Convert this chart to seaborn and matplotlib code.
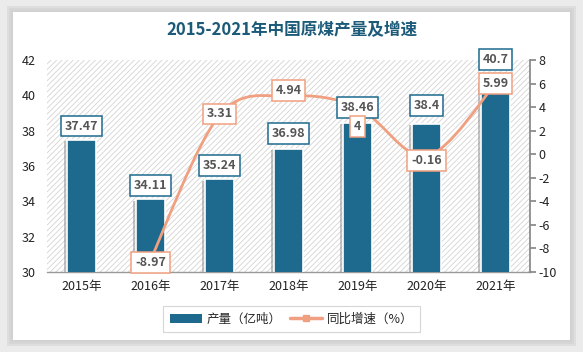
import numpy as np
import pandas as pd
import matplotlib
matplotlib.use("Agg")
import matplotlib.pyplot as plt
import seaborn as sns
from matplotlib.patches import Rectangle
from matplotlib.path import Path
from matplotlib.patches import PathPatch
from matplotlib.lines import Line2D
from matplotlib.patches import Patch
import matplotlib.patheffects as pe

years = ["2015年", "2016年", "2017年", "2018年", "2019年", "2020年", "2021年"]
output = [37.47, 34.11, 35.24, 36.98, 38.46, 38.4, 40.7]
growth_years = ["2016年", "2017年", "2018年", "2019年", "2020年", "2021年"]
growth = [-8.97, 3.31, 4.94, 4.0, -0.16, 5.99]
growth_labels = ["-8.97", "3.31", "4.94", "4", "-0.16", "5.99"]
output_labels = ["37.47", "34.11", "35.24", "36.98", "38.46", "38.4", "40.7"]

sns.set_theme(style="white")
plt.rcParams['font.family'] = ['Noto Sans CJK SC', 'DejaVu Sans']
plt.rcParams['hatch.linewidth'] = 0.6
plt.rcParams['axes.unicode_minus'] = False

BAR = "#1d6a8e"
LINE = "#f0a080"
TXT = "#555555"

fig = plt.figure(figsize=(5.83, 3.52), dpi=100)
fig.patch.set_facecolor("#ebebeb")
# white card with shadow
for i in range(3):
    fig.patches.append(Rectangle((13/583 - (i+1)*2/583, 12/352 - (i+1)*2/352),
                                 (557 + (i+1)*4)/583, (328 + (i+1)*4)/352,
                                 transform=fig.transFigure, facecolor="#c8c8c8",
                                 edgecolor="none", alpha=0.35, zorder=-3))
fig.patches.append(Rectangle((13/583, 12/352), 557/583, 328/352,
                             transform=fig.transFigure, facecolor="white",
                             edgecolor="none", zorder=-2))

ax = fig.add_axes([47/583, 1 - 272/352, (530 - 47)/583, (272 - 60)/352])
ax.set_facecolor("white")
ax.add_patch(Rectangle((0, 0), 1, 1, transform=ax.transAxes, facecolor="white",
                       edgecolor="#d4d4d4", hatch="//////", linewidth=0, zorder=0))

df = pd.DataFrame({"year": years, "output": output})
sns.barplot(data=df, x="year", y="output", color=BAR, saturation=1, width=0.43,
            edgecolor="white", linewidth=1.2, ax=ax, zorder=3)
for p in ax.patches[1:]:
    p.set_path_effects([pe.SimplePatchShadow(offset=(-2, -1), shadow_rgbFace="#888888", alpha=0.5),
                        pe.Normal()])
ax.set_ylim(30, 42)
ax.set_yticks(np.arange(30, 43, 2))
ax.set_xlim(-0.5, 6.5)
ax.set_xlabel("")
ax.set_ylabel("")
for s in ["top", "right", "left"]:
    ax.spines[s].set_visible(False)
ax.spines["bottom"].set_color("#999999")
ax.spines["bottom"].set_linewidth(1)
ax.tick_params(axis="y", length=0, labelsize=9, colors="#222222", pad=8)
ax.tick_params(axis="x", length=0, labelsize=9, colors="#222222", pad=6)

ax2 = ax.twinx()
xs = np.array([years.index(y) for y in growth_years], dtype=float)
ys = np.array(growth)
# smooth curve (Catmull-Rom -> cubic Bezier) through the data points
verts = [(xs[0], ys[0])]
codes = [Path.MOVETO]
P = np.column_stack([xs, ys])
n = len(P)
for k in range(n - 1):
    p0 = P[k - 1] if k > 0 else P[k]
    p1 = P[k]
    p2 = P[k + 1]
    p3 = P[k + 2] if k + 2 < n else P[k + 1]
    c1 = p1 + (p2 - p0) / 6
    c2 = p2 - (p3 - p1) / 6
    verts += [tuple(c1), tuple(c2), tuple(p2)]
    codes += [Path.CURVE4] * 3
ax2.add_patch(PathPatch(Path(verts, codes), facecolor="none", edgecolor=LINE,
                        lw=2.0, zorder=4))
gdf = pd.DataFrame({"x": xs, "g": ys})
sns.scatterplot(data=gdf, x="x", y="g", ax=ax2, color=LINE, marker="s", s=25,
                edgecolor=LINE, zorder=5)
ax2.set_ylim(-10, 8)
ax2.set_yticks(np.arange(-10, 9, 2))
ax2.set_xlim(-0.5, 6.5)
ax2.set_ylabel("")
ax2.set_xlabel("")
for s in ["top", "left", "bottom"]:
    ax2.spines[s].set_visible(False)
ax2.spines["right"].set_color("#888888")
ax2.tick_params(axis="y", direction="out", length=4, color="#888888",
                labelsize=9, labelcolor="#222222", pad=2, right=True)

# bar value labels (drawn on top axes so they sit above the line)
boffs = [10, 10, 10, 11, 11, 13, 17]
for i, (v, lab, o) in enumerate(zip(output, output_labels, boffs)):
    ax2.annotate(lab, (i, v), xycoords=ax.transData, xytext=(0, o),
                 textcoords="offset points",
                 ha="center", va="center", fontsize=9, fontweight="bold", color=TXT,
                 bbox=dict(boxstyle="square,pad=0.3", fc="white", ec=BAR, lw=1.1),
                 zorder=6)

offs = [-2, 1, 4, -14, -3, 0]
for x, v, lab, o in zip(xs, ys, growth_labels, offs):
    ax2.annotate(lab, (x, v), xytext=(0, o), textcoords="offset points",
                 ha="center", va="center", fontsize=9, fontweight="bold", color=TXT,
                 bbox=dict(boxstyle="square,pad=0.3", fc="white", ec=LINE, lw=1.1),
                 zorder=7)

fig.text(0.5, 1 - 30/352, "2015-2021年中国原煤产量及增速", ha="center", va="center",
         fontsize=12, fontweight="bold", color="#1b5a78")

handles = [Patch(facecolor=BAR, edgecolor="none"),
           Line2D([0], [0], color=LINE, lw=2.5, marker="s", markersize=5)]
leg = fig.legend(handles, ["产量（亿吨）", "同比增速（%）"], loc="center",
                 bbox_to_anchor=(0.5, 1 - 319/352), ncol=2, frameon=True,
                 fontsize=9, handlelength=2.6, columnspacing=0.6, handletextpad=0.4,
                 fancybox=False, edgecolor="#cccccc", borderpad=0.5)
leg.get_frame().set_linewidth(0.8)

fig.savefig("out.png", dpi=100, facecolor=fig.get_facecolor())
